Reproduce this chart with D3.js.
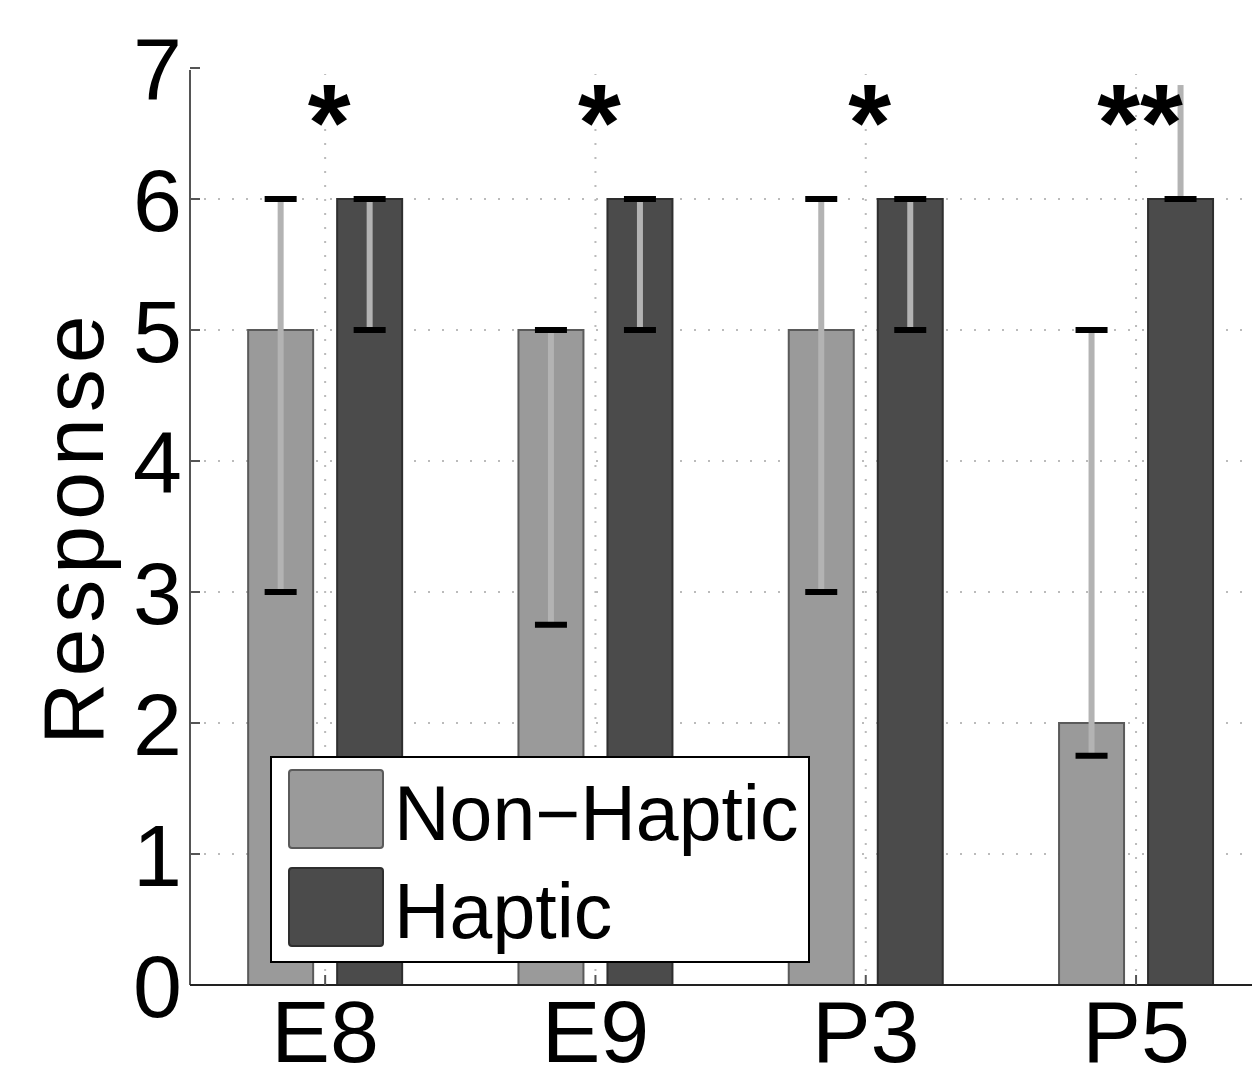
<!DOCTYPE html>
<html>
<head>
<meta charset="utf-8">
<script src="https://cdn.jsdelivr.net/npm/d3@7"></script>
<style>
  body { margin: 0; background: #fff; }
  text { font-family: "Liberation Sans", Arial, sans-serif; }
</style>
</head>
<body>
<svg class="chart"></svg>
<script>
"use strict";

var categories = ['E8', 'E9', 'P3', 'P5'];
var seriesNames = ['Non\u2212Haptic', 'Haptic'];
var nonHaptic = [5, 5, 5, 2];
var haptic = [6, 6, 6, 6];
var nonHapticLow = [3, 2.75, 3, 1.75];
var nonHapticHigh = [6, 5, 6, 5];
var hapticLow = [5, 5, 5, 6];
var hapticHigh = [6, 6, 6, 6.87];
var hapticHighCap = [true, true, true, false];
var stars = ['*', '*', '*', '**'];
var yTicks = [0, 1, 2, 3, 4, 5, 6, 7];

var W = 1252, H = 1069;
var padLeft = 190, padTop = 68, padBottom = 985;
var step = 270.3;

var svg = d3.select('.chart')
  .attr('width', W)
  .attr('height', H);

var x = d3.scaleLinear()
  .domain([0.5, 4.5])
  .range([padLeft, padLeft + step * 4]);

var y = d3.scaleLinear()
  .domain([0, 7])
  .range([padBottom, padTop]);

var barW = 65, off = 44.5;

// grid (no line at the top limit)
var grid = svg.append('g');
grid.selectAll('.hg')
  .data(yTicks.slice(1, -1))
  .enter().append('line')
    .attr('x1', padLeft).attr('x2', W)
    .attr('y1', function(d){return y(d)}).attr('y2', function(d){return y(d)})
    .style('stroke', '#bbb').style('stroke-width', 2)
    .style('stroke-dasharray', '2,12');
grid.selectAll('.vg')
  .data(categories)
  .enter().append('line')
    .attr('x1', function(d,i){return x(i+1)}).attr('x2', function(d,i){return x(i+1)})
    .attr('y1', y(0)).attr('y2', y(7) + 6)
    .style('stroke', '#bbb').style('stroke-width', 2)
    .style('stroke-dasharray', '2,12');

// bars
var series = [
  {vals: nonHaptic, lo: nonHapticLow, hi: nonHapticHigh, cap: [true,true,true,true], dx: -off, fill: '#9a9a9a', edge: '#5a5a5a'},
  {vals: haptic, lo: hapticLow, hi: hapticHigh, cap: hapticHighCap, dx: off, fill: '#4b4b4b', edge: '#2e2e2e'}
];

series.forEach(function(s){
  var g = svg.append('g');
  g.selectAll('rect')
    .data(s.vals)
    .enter().append('rect')
      .attr('x', function(d,i){return x(i+1) + s.dx - barW/2})
      .attr('y', function(d){return y(d)})
      .attr('width', barW)
      .attr('height', function(d){return y(0) - y(d)})
      .style('fill', s.fill)
      .style('stroke', s.edge)
      .style('stroke-width', 2);

  g.selectAll('.eb')
    .data(s.vals)
    .enter().append('line')
      .attr('x1', function(d,i){return x(i+1) + s.dx}).attr('x2', function(d,i){return x(i+1) + s.dx})
      .attr('y1', function(d,i){return y(s.lo[i])})
      .attr('y2', function(d,i){return y(s.hi[i])})
      .style('stroke', '#b3b3b3').style('stroke-width', 6);

  g.selectAll('.capLo')
    .data(s.vals)
    .enter().append('line')
      .attr('x1', function(d,i){return x(i+1) + s.dx - 16}).attr('x2', function(d,i){return x(i+1) + s.dx + 16})
      .attr('y1', function(d,i){return y(s.lo[i])}).attr('y2', function(d,i){return y(s.lo[i])})
      .style('stroke', '#000').style('stroke-width', 6);

  var capIdx = s.vals.map(function(d,i){return i}).filter(function(i){return s.cap[i]});
  g.selectAll('.capHi')
    .data(capIdx)
    .enter().append('line')
      .attr('x1', function(i){return x(i+1) + s.dx - 16}).attr('x2', function(i){return x(i+1) + s.dx + 16})
      .attr('y1', function(i){return y(s.hi[i])}).attr('y2', function(i){return y(s.hi[i])})
      .style('stroke', '#000').style('stroke-width', 6);
});

// significance stars
svg.append('g').selectAll('text')
  .data(stars)
  .enter().append('text')
    .attr('x', function(d,i){return x(i+1) + 4})
    .attr('y', 160)
    .attr('text-anchor', 'middle')
    .style('font-size', '110px')
    .style('font-weight', 'bold')
    .text(function(d){return d});

// axes
var yAxis = svg.append('g');
yAxis.append('line')
  .attr('x1', padLeft).attr('x2', padLeft)
  .attr('y1', y(7) + 2).attr('y2', padBottom)
  .style('stroke', '#555').style('stroke-width', 2);
yAxis.selectAll('.tk')
  .data(yTicks)
  .enter().append('line')
    .attr('x1', padLeft).attr('x2', padLeft + 10)
    .attr('y1', function(d){return y(d)}).attr('y2', function(d){return y(d)})
    .style('stroke', '#555').style('stroke-width', 2);
yAxis.selectAll('text')
  .data(yTicks)
  .enter().append('text')
    .attr('x', padLeft - 8)
    .attr('y', function(d){return y(d) + 32})
    .attr('text-anchor', 'end')
    .style('font-size', '88px')
    .text(function(d){return d});

var xAxis = svg.append('g');
xAxis.append('line')
  .attr('x1', padLeft).attr('x2', W)
  .attr('y1', padBottom).attr('y2', padBottom)
  .style('stroke', '#222').style('stroke-width', 2);
xAxis.selectAll('.tk')
  .data(categories)
  .enter().append('line')
    .attr('x1', function(d,i){return x(i+1)}).attr('x2', function(d,i){return x(i+1)})
    .attr('y1', padBottom).attr('y2', padBottom - 10)
    .style('stroke', '#555').style('stroke-width', 2);
xAxis.selectAll('text')
  .data(categories)
  .enter().append('text')
    .attr('x', function(d,i){return x(i+1)})
    .attr('y', 1062)
    .attr('text-anchor', 'middle')
    .style('font-size', '88px')
    .text(function(d){return d});

svg.append('text')
  .attr('transform', 'translate(103,527) rotate(-90)')
  .attr('text-anchor', 'middle')
  .style('font-size', '86px')
  .style('letter-spacing', '6px')
  .text('Response');

// legend
var legend = svg.append('g');
legend.append('rect')
  .attr('x', 271).attr('y', 757)
  .attr('width', 538).attr('height', 205)
  .style('fill', '#fff').style('stroke', '#000').style('stroke-width', 2);
legend.selectAll('.sw')
  .data(seriesNames)
  .enter().append('rect')
    .attr('x', 289)
    .attr('y', function(d,i){return 770 + i*98})
    .attr('width', 94).attr('height', 78)
    .attr('rx', 3)
    .style('fill', function(d,i){return series[i].fill})
    .style('stroke', function(d,i){return series[i].edge})
    .style('stroke-width', 2);
legend.selectAll('.lt')
  .data(seriesNames)
  .enter().append('text')
    .attr('x', 394)
    .attr('y', function(d,i){return 840 + i*98})
    .style('font-size', '77px')
    .text(function(d){return d});
</script>
</body>
</html>
